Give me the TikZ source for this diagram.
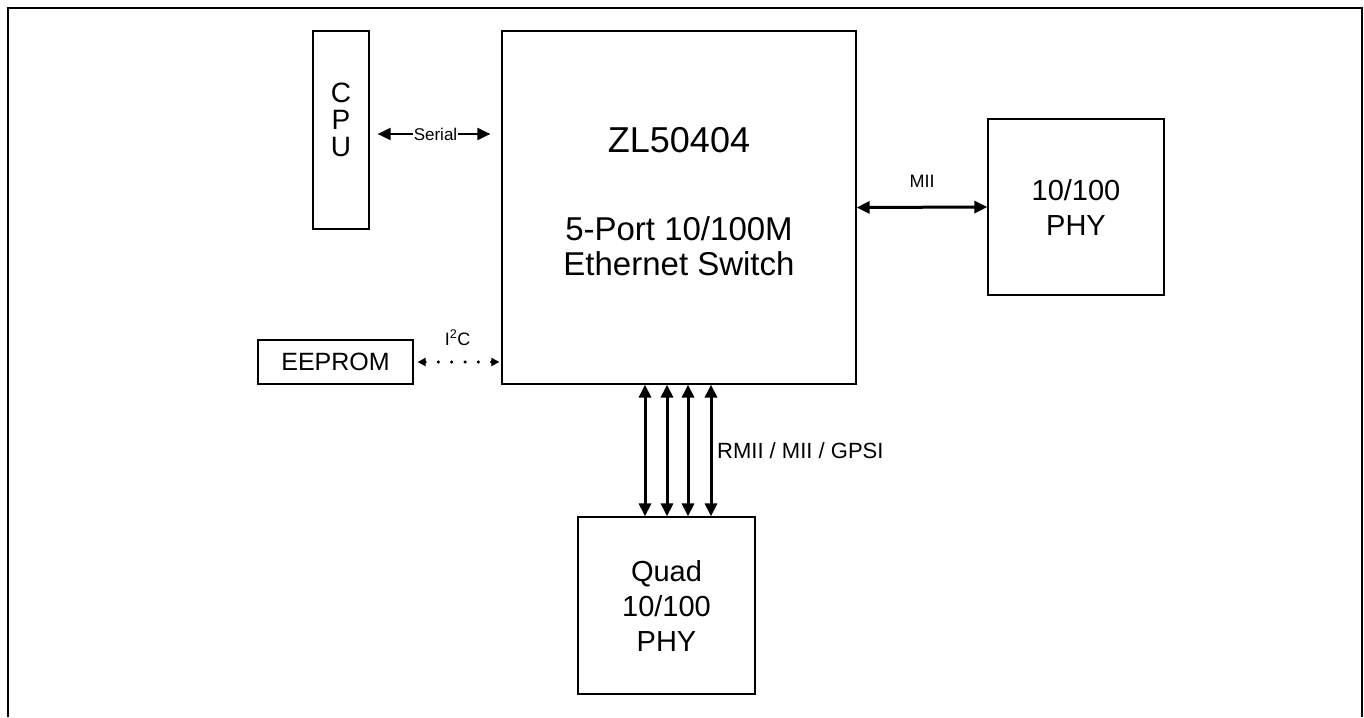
\documentclass[tikz,border=0pt]{standalone}
\usepackage{fontspec}
\setmainfont{Liberation Sans}
\usetikzlibrary{arrows.meta,calc}

\tikzset{
    block/.style={draw, line width=1.2pt, inner sep=0pt, align=center},
    link/.style={{Triangle[length=13pt,width=12pt]}-{Triangle[length=13pt,width=12pt]}, line width=3pt},
    tag/.style={inner sep=0pt, font=\fontsize{18}{18}\selectfont},
}

\begin{document}
\begin{tikzpicture}[x=1pt, y=-1pt]
\useasboundingbox (0,0) rectangle (1364,717);
\draw[line width=2.7pt] (8,717) -- (8,8) -- (1362,8) -- (1362,717);

% blocks
\node[block, minimum width=56pt, minimum height=198pt] (cpu) at (341,130) {};
\node[align=center, font=\fontsize{28}{27}\selectfont] (cpuname) at (341,120) {C\\P\\U};
\node[block, minimum width=354pt, minimum height=353pt] (sw) at (679,207.5) {};
\node[font=\fontsize{36}{36}\selectfont] (swname) at (679,140) {ZL50404};
\node[align=center, font=\fontsize{33}{35}\selectfont] (swtext) at (679,246.5) {5-Port 10/100M\\Ethernet Switch};
\node[block, minimum width=176pt, minimum height=176pt, font=\fontsize{29}{35}\selectfont] (phy) at (1076,207) {10/100\\PHY};
\node[block, minimum width=155pt, minimum height=44pt, font=\fontsize{25}{25}\selectfont] (eeprom) at (335.5,362) {EEPROM};
\node[block, minimum width=177pt, minimum height=177pt, font=\fontsize{29}{35}\selectfont] (quad) at (666.5,605.5) {Quad\\10/100\\PHY};

% links
\draw[link, line width=2pt, shorten <=8pt, shorten >=11pt] ([yshift=-4pt]cpu.east) -- ([yshift=-4pt]cpu.east -| sw.west)
    node[midway, fill=white, inner sep=1pt, font=\fontsize{17}{17}\selectfont] (serial) {Serial};
\draw[link] (sw.east) -- (phy.west) node[midway, above=18pt, tag] (mii) {MII};
\draw[{Triangle[length=8pt,width=8pt]}-{Triangle[length=8pt,width=8pt]}, line width=3.5pt, line cap=round,
    dash pattern=on 0pt off 13.3pt, shorten <=4pt, shorten >=2pt] (eeprom.east) -- (eeprom.east -| sw.west)
    node[midway, above=15pt, tag] (i2c) {I\textsuperscript{2}C};
\foreach \dx in {-34,-12,9,32}
    \draw[link] ([xshift=\dx]sw.south) -- ([xshift=\dx]sw.south |- quad.north);
\path ([xshift=38]sw.south) -- ([xshift=38]sw.south |- quad.north)
    node[midway, anchor=west, tag, font=\fontsize{22}{22}\selectfont] (bus) {RMII / MII / GPSI};
\end{tikzpicture}
\end{document}
